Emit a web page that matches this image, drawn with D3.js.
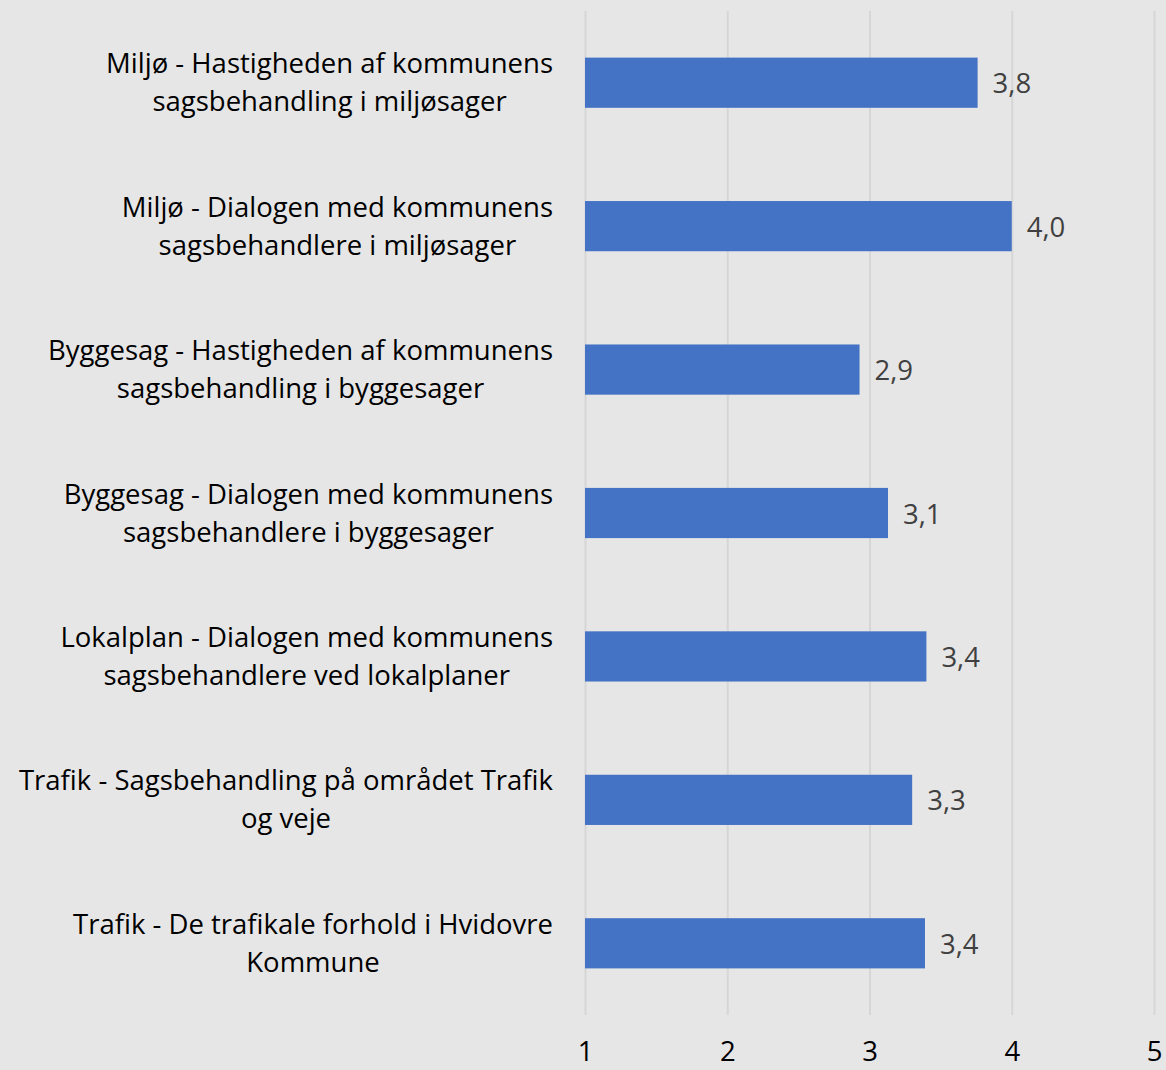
<!DOCTYPE html>
<html>
<head>
<meta charset="utf-8">
<script src="https://cdn.jsdelivr.net/npm/d3@7"></script>
<style>
  html, body { margin: 0; padding: 0; background: #e7e6e6; }
  svg { display: block; }
</style>
</head>
<body>
<svg id="chart" width="1166" height="1070"></svg>
<script>
let kCanvas = { "w": 1166, "h": 1070 };
let kChart = { "x": 585, "y": 11, "w": 569, "h": 1004 };

let kColors = {
  "bg": "#e7e6e6",
  "bar": "#4472c4",
  "grid": "#d6d6d6",
  "label": "#000000",
  "value": "#404040"
};

// data
let categories = [
  ["Miljø - Hastigheden af kommunens", "sagsbehandling i miljøsager"],
  ["Miljø - Dialogen med kommunens", "sagsbehandlere i miljøsager"],
  ["Byggesag - Hastigheden af kommunens", "sagsbehandling i byggesager"],
  ["Byggesag - Dialogen med kommunens", "sagsbehandlere i byggesager"],
  ["Lokalplan - Dialogen med kommunens", "sagsbehandlere ved lokalplaner"],
  ["Trafik - Sagsbehandling på området Trafik", "og veje"],
  ["Trafik - De trafikale forhold i Hvidovre", "Kommune"]
];
let values = [3.76, 4.0, 2.93, 3.13, 3.4, 3.3, 3.39];
let xTicks = [1, 2, 3, 4, 5];

let FONT = "'Open Sans', sans-serif";
let FONT_SIZE = "27.5px";

let svg = d3.select("#chart");
svg.append("rect").attr("width", kCanvas.w).attr("height", kCanvas.h).attr("fill", kColors.bg);

let x = d3.scaleLinear().domain([1, 5]).range([kChart.x, kChart.x + kChart.w]);
let y = d3.scaleBand()
  .domain(d3.range(categories.length))
  .range([kChart.y, kChart.y + kChart.h])
  .paddingInner(0.65)
  .paddingOuter(0.325);

// grid lines
let xAxis = d3.axisBottom(x).tickValues(xTicks).tickSize(-kChart.h).tickFormat(d3.format("d"));
let gx = svg.append("g")
  .attr("transform", "translate(0," + (kChart.y + kChart.h) + ")")
  .call(xAxis);
gx.select(".domain").remove();
gx.selectAll(".tick line").attr("stroke", kColors.grid).attr("stroke-width", 2);
gx.selectAll(".tick text")
  .attr("y", 36)
  .attr("dy", "0.35em")
  .attr("fill", "#000")
  .style("font-family", FONT)
  .style("font-size", FONT_SIZE);

// bars
svg.append("g").selectAll("rect")
  .data(values)
  .join("rect")
  .attr("x", x(1))
  .attr("y", (d, i) => y(i))
  .attr("width", d => x(d) - x(1))
  .attr("height", y.bandwidth())
  .attr("fill", kColors.bar);

// value labels
let fmt = d => d3.format(".1f")(d).replace(".", ",");
svg.append("g").selectAll("text")
  .data(values)
  .join("text")
  .attr("x", d => x(d) + 15)
  .attr("y", (d, i) => y(i) + y.bandwidth() / 2 + 1)
  .attr("dy", "0.35em")
  .attr("fill", kColors.value)
  .style("font-family", FONT)
  .style("font-size", FONT_SIZE)
  .text(fmt);

// category labels, centred block right-aligned at 553
let LABEL_RIGHT = 553;
let gl = svg.append("g");
categories.forEach(function(lines, i) {
  let cy = y(i) + y.bandwidth() / 2;
  let t = gl.append("text")
    .attr("text-anchor", "middle")
    .attr("fill", kColors.label)
    .style("font-family", FONT)
    .style("font-size", FONT_SIZE);
  lines.forEach(function(line, li) {
    t.append("tspan")
      .attr("y", cy + (li - (lines.length - 1) / 2) * 38)
      .attr("dy", "0.35em")
      .text(line);
  });
  let maxW = 0;
  t.selectAll("tspan").each(function() { maxW = Math.max(maxW, this.getComputedTextLength()); });
  t.selectAll("tspan").attr("x", LABEL_RIGHT - maxW / 2);
});
</script>
</body>
</html>
